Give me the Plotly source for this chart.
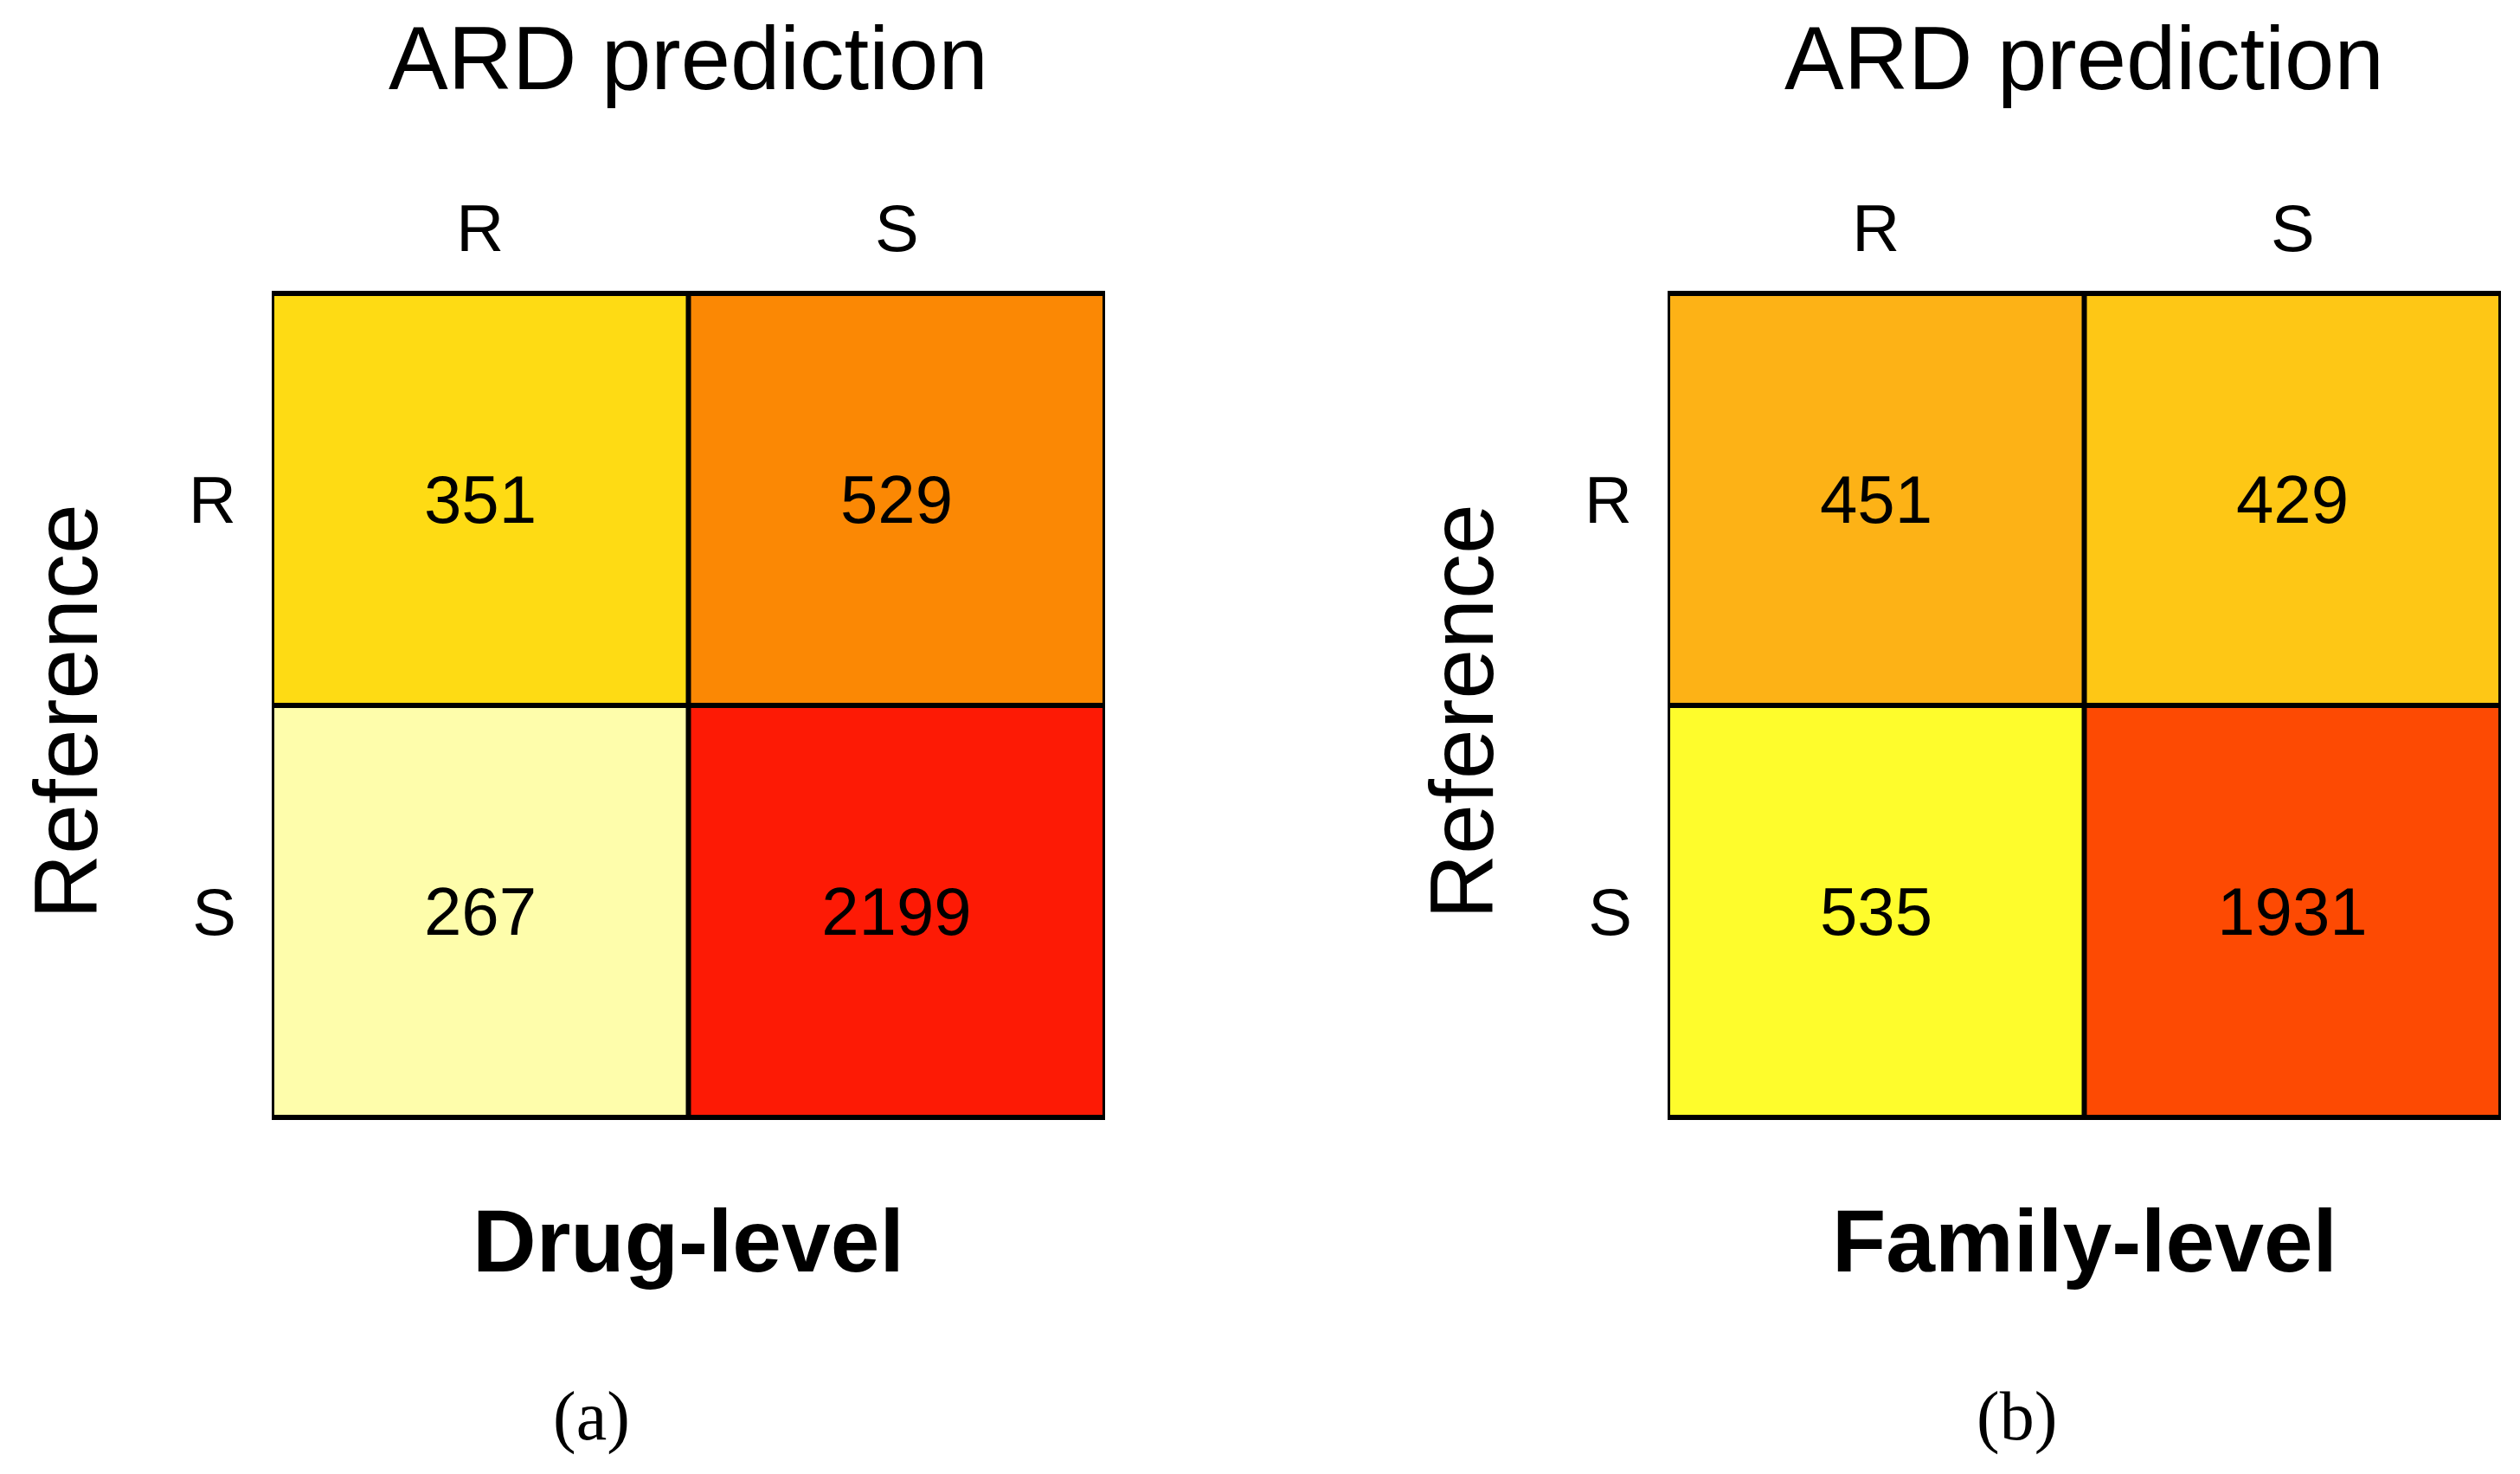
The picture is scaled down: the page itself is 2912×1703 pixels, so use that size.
import plotly.graph_objects as go

# ---- data ----
pred_labels = ["R", "S"]          # ARD prediction (columns)
ref_labels = ["R", "S"]           # Reference (rows)
drug_level = [[351, 529], [267, 2199]]
family_level = [[451, 429], [535, 1931]]
panel_names = ["Drug-level", "Family-level"]
panel_tags = ["(a)", "(b)"]

# ---- style ----
drug_colors = {351: "#FEDB14", 529: "#FB8804", 267: "#FEFDAB", 2199: "#FD1A05"}
family_colors = {451: "#FDB216", 429: "#FEC715", 535: "#FEFC2C", 1931: "#FD4A03"}

# the page body has an 8px margin; keep the figure inside the window
M = 8
W, H = 2912 - 2 * M, 1703 - 2 * M
FONT = "Liberation Sans, Arial, sans-serif"


def px(xo):
    return (xo - M) / W


def py(yo):
    return 1 - (yo - M) / H


def make_scale(z, cmap):
    vals = sorted(v for row in z for v in row)
    lo, hi = vals[0], vals[-1]
    return [[(v - lo) / (hi - lo), cmap[v]] for v in vals], lo, hi


fig = go.Figure()
panels = [(drug_level, drug_colors), (family_level, family_colors)]
x_edges = [(314, 1277), (1927, 2890)]
y_domain = [py(1294), py(336)]
tag_x = [683, 2330]

for i, (z, cmap) in enumerate(panels):
    scale, lo, hi = make_scale(z, cmap)
    sx = "" if i == 0 else str(i + 1)
    fig.add_trace(go.Heatmap(
        z=z, x=pred_labels, y=ref_labels,
        colorscale=scale, zmin=lo, zmax=hi, showscale=False,
        texttemplate="%{z}", textfont=dict(family=FONT, size=78, color="black"),
        xaxis="x" + sx, yaxis="y" + sx, hoverinfo="z",
    ))
    xd = [px(x_edges[i][0]), px(x_edges[i][1])]
    ax = dict(domain=xd, side="top", showgrid=False, zeroline=False,
              ticks="", ticklabelstandoff=30, tickfont=dict(family=FONT, size=76, color="black"),
              anchor="y" + sx, range=[-0.5, 1.5], fixedrange=True)
    ay = dict(domain=y_domain, autorange="reversed", showgrid=False, zeroline=False,
              ticks="", ticklabelstandoff=40, tickfont=dict(family=FONT, size=76, color="black"),
              anchor="x" + sx, fixedrange=True)
    fig.layout["xaxis" + sx] = ax
    fig.layout["yaxis" + sx] = ay

    xr, yr = "x" + sx, "y" + sx
    lw = 6
    fig.add_shape(type="rect", xref=xr, yref=yr, x0=-0.5, x1=1.5, y0=-0.5, y1=1.5,
                  line=dict(color="black", width=lw))
    fig.add_shape(type="line", xref=xr, yref=yr, x0=0.5, x1=0.5, y0=-0.5, y1=1.5,
                  line=dict(color="black", width=lw))
    fig.add_shape(type="line", xref=xr, yref=yr, x0=-0.5, x1=1.5, y0=0.5, y1=0.5,
                  line=dict(color="black", width=lw))

    cx = (xd[0] + xd[1]) / 2
    fig.add_annotation(text="ARD prediction", xref="paper", yref="paper",
                       x=cx, y=py(68), xanchor="center", yanchor="middle",
                       showarrow=False, font=dict(family=FONT, size=103, color="black"))
    fig.add_annotation(text="Reference", xref="paper", yref="paper",
                       x=px(x_edges[i][0] - 238), y=py(822), textangle=-90,
                       xanchor="center", yanchor="middle", showarrow=False,
                       font=dict(family=FONT, size=104, color="black"))
    fig.add_annotation(text="<b>%s</b>" % panel_names[i], xref="paper", yref="paper",
                       x=cx, y=py(1434), xanchor="center", yanchor="middle",
                       showarrow=False, font=dict(family=FONT, size=102, color="black"))
    fig.add_annotation(text=panel_tags[i], xref="paper", yref="paper",
                       x=px(tag_x[i]), y=py(1636),
                       xanchor="center", yanchor="middle", showarrow=False,
                       font=dict(family="Liberation Serif, Times New Roman, serif", size=80, color="black"))

fig.update_layout(width=W, height=H, margin=dict(l=0, r=0, t=0, b=0),
                  paper_bgcolor="white", plot_bgcolor="white", showlegend=False)

fig.write_html("out.html")
